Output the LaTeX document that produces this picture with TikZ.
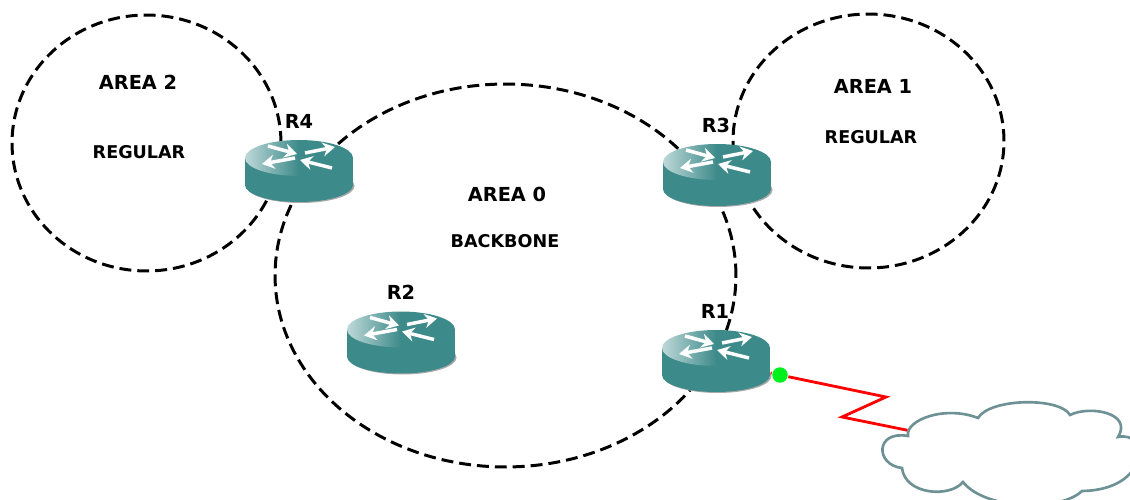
\documentclass[tikz,border=0pt]{standalone}
\usepackage{fontspec}
\setmainfont{DejaVu Sans}
\usetikzlibrary{arrows.meta,shapes.geometric}
\definecolor{routerteal}{RGB}{61,138,138}
\definecolor{routerlight}{RGB}{190,216,216}
\definecolor{routershadow}{RGB}{170,170,170}
\definecolor{cloudline}{RGB}{110,145,150}
\definecolor{dotgreen}{RGB}{0,240,30}
\tikzset{
	routericon/.pic = {
		\fill[routershadow] (1.5,15) ellipse [x radius=54, y radius=17];
		\fill[routerteal] (0,14) ellipse [x radius=54, y radius=17];
		\fill[routerteal] (-54,-13) rectangle (54,14);
		\shade[left color=routerlight, right color=routerteal, middle color=routerteal] (0,-13) ellipse [x radius=54, y radius=18];
		\draw[routerarrow] (-31,-25) -- (-2,-17);
		\draw[routerarrow] (-4,-13) -- (-37,-7);
		\draw[routerarrow] (6,-18) -- (36,-24);
		\draw[routerarrow] (33,-3) -- (1,-11);
	},
}
\begin{document}
\begin{tikzpicture}[
		x=0.02cm,
		y=-0.02cm,
		thick,
		font=\bfseries\fontsize{11}{13}\selectfont
	]
	\tikzset{
		areaedge/.style = {ellipse, draw=black, line width=1.7pt, dash pattern=on 6.8pt off 3.4pt, inner sep=0pt},
		routerbox/.style = {rectangle, minimum width=2.16cm, minimum height=1.24cm, inner sep=0pt},
		routerarrow/.style = {white, line width=2pt, -{Stealth[length=7pt,width=8pt]}},
		ispbox/.style = {rectangle, minimum width=4.08cm, minimum height=1.9cm, inner sep=0pt},
		wan/.style = {draw=cloudline, line width=1.5pt, fill=white},
		wanlink/.style = {red, line width=1.6pt},
		up/.style = {circle, fill=dotgreen, minimum size=0.31cm, inner sep=0pt},
		mylabel/.style = {text=black, inner sep=0pt},
		mytype/.style = {mylabel, font=\bfseries\fontsize{10}{12}\selectfont},
	}
	\useasboundingbox (0,0) rectangle (1130,500);
	\fill[white] (0,0) rectangle (1130,500);
	%
	\node[areaedge, minimum width=5.38cm, minimum height=5.12cm] at (146.5,143) (area2) {};
	\node[areaedge, minimum width=9.22cm, minimum height=7.66cm] at (505.5,275.5) (area0) {};
	\node[areaedge, minimum width=5.42cm, minimum height=5.08cm] at (868.5,141) (area1) {};
	%
	\node[routerbox] at (299,171) (r4) {};
	\node[routerbox] at (717,175) (r3) {};
	\node[routerbox] at (401,342.5) (r2) {};
	\node[routerbox] at (716,361) (r1) {};
	\pic at (r4) {routericon};
	\pic at (r3) {routericon};
	\pic at (r2) {routericon};
	\pic at (r1) {routericon};
	%
	\draw[wan] (908,436) .. controls (905,420) and (945,405) .. (978,418)
		.. controls (990,398) and (1060,397) .. (1070,415)
		.. controls (1090,405) and (1133,413) .. (1118,437)
		.. controls (1150,430) and (1150,490) .. (1082,491)
		.. controls (1060,512) and (985,510) .. (963,482)
		.. controls (950,498) and (905,495) .. (902,468)
		.. controls (875,465) and (875,430) .. (908,436) -- cycle;
	\node[ispbox] at (1010,451) (isp) {};
	\node[up] at (780,375) (r1up) {};
	\coordinate (kneea) at (886,397);
	\coordinate (kneeb) at (842,417);
	\draw[wanlink] (r1) -- (r1up);
	\draw[wanlink] (r1up) -- (kneea) -- (kneeb) -- (isp);
	%
	\node[mylabel] at (299,121) (r4label) {R4};
	\node[mylabel] at (716,125) (r3label) {R3};
	\node[mylabel] at (401,292) (r2label) {R2};
	\node[mylabel] at (715,311) (r1label) {R1};
	%
	\node[mylabel] at (138,82) (area2name) {AREA 2};
	\node[mytype] at (139,152) (area2type) {REGULAR};
	\node[mylabel] at (507,194) (area0name) {AREA 0};
	\node[mytype] at (505,241) (area0type) {BACKBONE};
	\node[mylabel] at (873,86) (area1name) {AREA 1};
	\node[mytype] at (871,137) (area1type) {REGULAR};
\end{tikzpicture}
\end{document}
